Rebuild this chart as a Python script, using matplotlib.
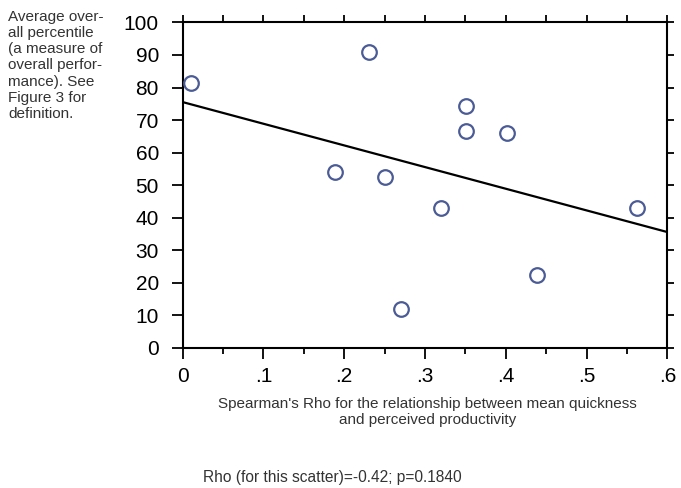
import numpy as np
import matplotlib.pyplot as plt
from matplotlib.ticker import MultipleLocator, FuncFormatter

plt.rcParams['font.family'] = ['Liberation Sans', 'DejaVu Sans']

# data
rho = [0.0105, 0.231, 0.189, 0.251, 0.351, 0.351, 0.401, 0.270, 0.320, 0.563, 0.439]
percentile = [81.4, 90.9, 54.2, 52.4, 74.3, 66.6, 66.0, 11.9, 43.1, 43.1, 22.3]

fig = plt.figure(figsize=(6.81, 4.88), dpi=100)
ax = fig.add_axes((0.268, 0.287, 0.712, 0.667))

# least squares line through the points
slope, intercept = np.polyfit(rho, percentile, 1)
xs = np.array([0, 0.6])
ax.plot(xs, intercept + slope * xs, color='black', lw=1.6, zorder=2)

ax.plot(rho, percentile, 'o', ms=10.5, mfc='none', mec='#4a5b95', mew=1.6,
        clip_on=False, zorder=3)

for s in ax.spines.values():
    s.set_linewidth(1.5)

ax.xaxis.set_major_locator(MultipleLocator(0.1))
ax.xaxis.set_minor_locator(MultipleLocator(0.05))
ax.yaxis.set_major_locator(MultipleLocator(10))
ax.xaxis.set_major_formatter(FuncFormatter(
    lambda v, p: '0' if abs(v) < 1e-9 else ('%.1f' % v).lstrip('0')))

ax.set_xlim(0, 0.6)
ax.set_ylim(0, 100)

ax.tick_params(axis='both', which='both', direction='out', width=1.3,
               top=True, right=True, labelsize=15, colors='black')
ax.tick_params(axis='x', which='major', length=8, pad=6)
ax.tick_params(axis='x', which='minor', length=4)
ax.tick_params(axis='y', which='major', length=8, pad=9)
# shorter ticks on top and right
for t in ax.xaxis.get_major_ticks() + ax.xaxis.get_minor_ticks():
    t.tick2line.set_markersize(5)
for t in ax.yaxis.get_major_ticks():
    t.tick2line.set_markersize(5)

fig.text(0.012, 0.98,
         "Average over-\nall percentile\n(a measure of\noverall perfor-\nmance). See\nFigure 3 for\ndefinition.",
         ha='left', va='top', fontsize=11, color='#333333', linespacing=1.2)

fig.text(0.628, 0.155,
         "Spearman's Rho for the relationship between mean quickness\nand perceived productivity",
         ha='center', va='center', fontsize=11, color='#333333', linespacing=1.2)

fig.text(0.298, 0.022, "Rho (for this scatter)=-0.42; p=0.1840",
         ha='left', va='center', fontsize=11.2, color='#333333')

fig.savefig('out.png', dpi=100)
